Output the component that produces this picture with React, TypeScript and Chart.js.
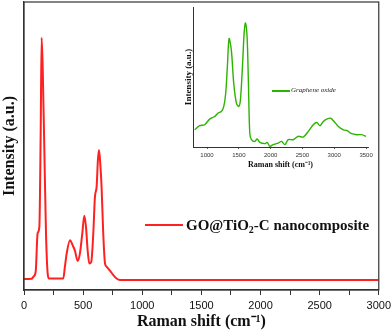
import React, { useEffect, useRef } from "react";
import { Chart, registerables } from "chart.js";

Chart.register(...registerables);

// Main spectrum: GO@TiO2-C nanocomposite
const mainShift = [0, 65, 79, 99, 115, 130, 141, 149, 158, 172, 186, 200, 211, 332, 346, 361, 389, 411, 431, 454, 473, 493, 510, 524, 538, 552, 569, 586, 600, 614, 625, 634, 645, 656, 670, 685, 699, 727, 755, 783, 811, 3000];
const mainIntensity = [3.8, 3.9, 4.6, 6.4, 19.7, 22, 54.3, 87.6, 77.5, 48.6, 19.7, 5.8, 4.0, 4.0, 8.1, 12.7, 17.3, 15.6, 13.6, 10.1, 12.7, 19.7, 25.8, 22, 13.9, 9.2, 9.8, 19.7, 32.4, 35.8, 45.1, 48.6, 43.9, 35.8, 19.7, 9.2, 8.1, 6.7, 5.2, 4.0, 3.5, 3.5];
const mainTicks = [0, 250, 500, 750, 1000, 1250, 1500, 1750, 2000, 2250, 2500, 2750, 3000];
const mainLabel = "GO@TiO₂-C nanocomposite";

// Inset spectrum: Graphene oxide
const goShift = [806, 884, 963, 1042, 1121, 1173, 1226, 1263, 1294, 1320, 1347, 1383, 1420, 1462, 1499, 1525, 1557, 1583, 1604, 1630, 1651, 1672, 1698, 1751, 1788, 1830, 1909, 1945, 1987, 2040, 2119, 2171, 2224, 2276, 2355, 2434, 2513, 2591, 2670, 2723, 2775, 2828, 2880, 2943, 2996, 3064, 3143, 3195, 3274, 3353, 3432, 3500];
const goIntensity = [12.3, 15.2, 15.9, 19.9, 21.8, 24.2, 25.4, 28.9, 38.4, 57.3, 77.5, 69, 45.5, 31.3, 28.9, 33.6, 57.3, 81, 88.6, 78.7, 45.5, 10, 5.2, 4, 5.7, 3.3, 2.4, 3.3, 0.5, 1.7, 2.8, 4, 1.7, 5.2, 5.2, 7.6, 7.1, 11.1, 15.9, 17.5, 15.2, 18.2, 19.9, 20.6, 18.2, 14.7, 12.3, 11.8, 9.5, 8.8, 8.8, 7.6];
const insetTicks = [1000, 1500, 2000, 2500, 3000, 3500];
const insetLabel = "Graphene oxide";

const RED = "#ff2020";
const GREEN = "#2db400";
const AXIS = "#333333";

const boxPlugin = {
  id: "box",
  afterDraw(chart: any) {
    const { ctx, chartArea } = chart;
    const { left, top, right, bottom } = chartArea;
    ctx.save();
    ctx.strokeStyle = AXIS;
    ctx.lineWidth = 1.2;
    ctx.strokeRect(left, top, right - left, bottom - top);
    ctx.restore();
  },
};

export default function App() {
  const mainRef = useRef<HTMLCanvasElement | null>(null);
  const insetRef = useRef<HTMLCanvasElement | null>(null);

  useEffect(() => {
    const main = new Chart(mainRef.current as HTMLCanvasElement, {
      type: "line",
      data: {
        datasets: [
          {
            label: mainLabel,
            data: mainShift.map((x, i) => ({ x, y: mainIntensity[i] })),
            borderColor: RED,
            borderWidth: 2,
            pointRadius: 0,
            cubicInterpolationMode: "monotone",
            fill: false,
          },
        ],
      },
      options: {
        responsive: false,
        animation: false,
        layout: { padding: { top: 2, right: 0, left: 0, bottom: 0 } },
        plugins: { legend: { display: false }, tooltip: { enabled: false } },
        scales: {
          x: {
            type: "linear",
            min: 0,
            max: 3000,
            afterBuildTicks: (s: any) => {
              s.ticks = mainTicks.map((v) => ({ value: v }));
            },
            afterFit: (s: any) => {
              s.height = 44;
            },
            ticks: {
              autoSkip: false,
              maxRotation: 0,
              padding: 4,
              color: "#111",
              font: { family: "'Liberation Sans', Arial, sans-serif", size: 11 },
              callback: (v: any) => (Number(v) % 500 === 0 ? String(v) : ""),
            },
            grid: { display: true, drawOnChartArea: false, drawTicks: true, tickLength: 5, tickColor: AXIS, lineWidth: 1 },
            border: { display: true, color: AXIS, width: 1.2 },
            title: {
              display: true,
              text: "Raman shift (cm⁻¹)",
              color: "#111",
              padding: { top: 0, bottom: 2.4 },
              font: { family: "'Liberation Serif', 'Times New Roman', serif", size: 16, weight: "bold" },
            },
          },
          y: {
            type: "linear",
            min: 0,
            max: 100,
            afterFit: (s: any) => {
              s.width = 24;
            },
            ticks: { display: false },
            grid: { display: false },
            border: { display: true, color: AXIS, width: 1.2 },
            title: {
              display: true,
              text: "Intensity (a.u.)",
              color: "#111",
              padding: { top: 0, bottom: 0 },
              font: { family: "'Liberation Serif', 'Times New Roman', serif", size: 16, weight: "bold" },
            },
          },
        },
      },
      plugins: [boxPlugin],
    } as any);

    const inset = new Chart(insetRef.current as HTMLCanvasElement, {
      type: "line",
      data: {
        datasets: [
          {
            label: insetLabel,
            data: goShift.map((x, i) => ({ x, y: goIntensity[i] })),
            borderColor: GREEN,
            borderWidth: 1.4,
            pointRadius: 0,
            tension: 0.3,
            fill: false,
          },
        ],
      },
      options: {
        responsive: false,
        animation: false,
        layout: { padding: { top: 7, right: 12, left: 0, bottom: 0 } },
        plugins: { legend: { display: false }, tooltip: { enabled: false } },
        scales: {
          x: {
            type: "linear",
            min: 780,
            max: 3530,
            afterBuildTicks: (s: any) => {
              s.ticks = insetTicks.map((v) => ({ value: v }));
            },
            afterFit: (s: any) => {
              s.height = 25;
            },
            ticks: {
              autoSkip: false,
              maxRotation: 0,
              padding: 2.5,
              color: "#333",
              font: { family: "'Liberation Sans', Arial, sans-serif", size: 6 },
              callback: (v: any) => String(v),
            },
            grid: { display: true, drawOnChartArea: false, drawTicks: true, tickLength: 2, tickColor: AXIS, lineWidth: 0.8 },
            border: { display: true, color: AXIS, width: 1 },
            title: {
              display: true,
              text: "Raman shift (cm⁻¹)",
              color: "#111",
              padding: { top: 0, bottom: 2.7 },
              font: { family: "'Liberation Serif', 'Times New Roman', serif", size: 8, weight: "bold" },
            },
          },
          y: {
            type: "linear",
            min: 0,
            max: 100,
            afterFit: (s: any) => {
              s.width = 13;
            },
            ticks: { display: false },
            grid: { display: false },
            border: { display: true, color: AXIS, width: 1 },
            title: {
              display: true,
              text: "Intensity (a.u.)",
              color: "#111",
              padding: { top: 3, bottom: 0 },
              font: { family: "'Liberation Serif', 'Times New Roman', serif", size: 9, weight: "bold" },
            },
          },
        },
      },
    } as any);

    return () => {
      main.destroy();
      inset.destroy();
    };
  }, []);

  return (
    <div style={{ position: "fixed", left: 0, top: 0, width: 392, height: 334, background: "#fff", overflow: "hidden" }}>
      <canvas ref={mainRef} width={395} height={334} style={{ position: "absolute", left: 0, top: 0, width: 395, height: 334 }} />
      <canvas ref={insetRef} width={200} height={172} style={{ position: "absolute", left: 180, top: 0, width: 200, height: 172 }} />
      <div style={{ position: "absolute", left: 145, top: 224, width: 38, height: 2, background: RED }} />
      <div
        style={{
          position: "absolute",
          left: 186,
          top: 217,
          whiteSpace: "nowrap",
          fontFamily: "'Liberation Serif', 'Times New Roman', serif",
          fontWeight: "bold",
          fontSize: 15,
          lineHeight: "17px",
          color: "#111",
        }}
      >
        GO@TiO<span style={{ fontSize: 10, verticalAlign: "-3px", lineHeight: 0 }}>2</span>-C nanocomposite
      </div>
      <div style={{ position: "absolute", left: 272, top: 90, width: 18, height: 1.5, background: GREEN }} />
      <div
        style={{
          position: "absolute",
          left: 291,
          top: 86,
          whiteSpace: "nowrap",
          fontFamily: "'Liberation Serif', 'Times New Roman', serif",
          fontStyle: "italic",
          fontSize: 7,
          lineHeight: "9px",
          color: "#222",
        }}
      >
        {insetLabel}
      </div>
    </div>
  );
}
